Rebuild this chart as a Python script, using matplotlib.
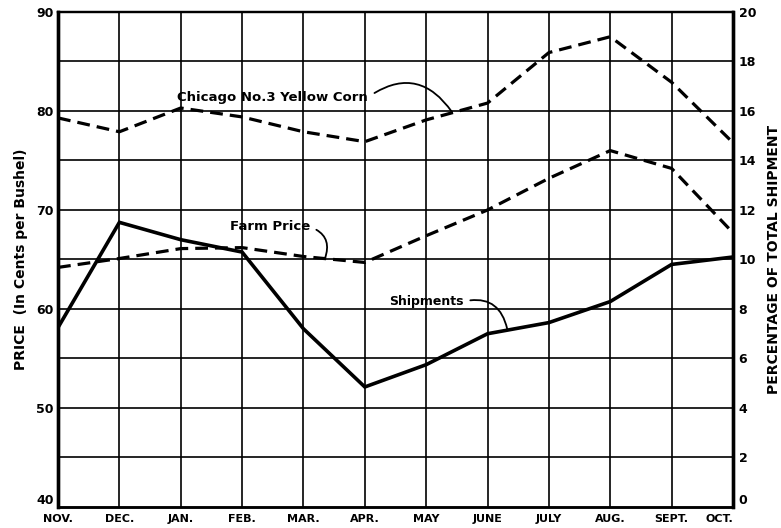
import matplotlib
matplotlib.use("Agg")
import matplotlib.pyplot as plt

# Monthly data, Nov through Oct
months = ["NOV.", "DEC.", "JAN.", "FEB.", "MAR.", "APR.",
          "MAY", "JUNE", "JULY", "AUG.", "SEPT.", "OCT."]

# Price in cents per bushel (left axis)
chicago_corn = [79.3, 77.9, 80.3, 79.4, 77.9, 76.9, 79.1, 80.8, 85.9, 87.5, 82.9, 76.8]
farm_price = [64.2, 65.1, 66.1, 66.2, 65.3, 64.7, 67.4, 70.0, 73.2, 76.0, 74.2, 67.7]

# Percentage of total shipment (right axis)
shipments = [7.25, 11.5, 10.8, 10.3, 7.2, 4.85, 5.75, 7.0, 7.45, 8.3, 9.8, 10.1]

price_ticks = [40, 50, 60, 70, 80, 90]
pct_ticks = [0, 2, 4, 6, 8, 10, 12, 14, 16, 18, 20]

plt.rcParams['font.family'] = ['DejaVu Sans']
plt.rcParams['font.weight'] = 'bold'

fig = plt.figure(figsize=(7.81, 5.28), dpi=100)
ax = fig.add_axes([0.0743, 0.0398, 0.8642, 0.9375])
x = list(range(len(months)))

ax.set_xlim(0, len(months) - 1)
ax.set_ylim(40, 90)

# Grid: every 5 cents and every month
for v in range(45, 90, 5):
    ax.axhline(v, color='black', lw=1.2, zorder=1)
for i in x[1:-1]:
    ax.axvline(i, color='black', lw=1.2, zorder=1)

ax.plot(x, chicago_corn, color='black', lw=2.3, dashes=(4, 2.2), zorder=3)
ax.plot(x, farm_price, color='black', lw=2.3, dashes=(4, 2.2), zorder=3)

ax2 = ax.twinx()
ax2.set_ylim(0, 20)
ax2.plot(x, shipments, color='black', lw=2.6, zorder=3, solid_joinstyle='miter')

# Axis ticks and labels
ax.set_xticks(x)
ax.set_xticklabels(months, fontsize=8, fontweight='bold')
ax.get_xticklabels()[-1].set_horizontalalignment('right')
ax.set_yticks(price_ticks)
ax.set_yticklabels([str(t) for t in price_ticks], fontsize=9, fontweight='bold')
ax2.set_yticks(pct_ticks)
ax2.set_yticklabels([str(t) for t in pct_ticks], fontsize=9, fontweight='bold')
ax.tick_params(axis='x', length=0, pad=5)
ax.tick_params(axis='y', length=0, pad=3)
ax2.tick_params(length=0, pad=4)
# lowest labels sit just above the bottom line
ax.get_yticklabels()[0].set_verticalalignment('bottom')
ax2.get_yticklabels()[0].set_verticalalignment('bottom')

ax.set_ylabel("PRICE  (In Cents per Bushel)", fontsize=10, fontweight='bold', labelpad=6)
ax2.set_ylabel("PERCENTAGE OF TOTAL SHIPMENT", fontsize=10, fontweight='bold', labelpad=8)

for a in (ax, ax2):
    for side in ('left', 'right'):
        a.spines[side].set_linewidth(2.4)
    a.spines['top'].set_linewidth(1.6)
    a.spines['bottom'].set_linewidth(1.8)

# Curve labels with leader lines
leader = dict(arrowstyle='-', color='black', lw=1.3,
              connectionstyle='arc3,rad=-0.5', relpos=(1, 0.5),
              shrinkA=3, shrinkB=0)
ax.annotate("Chicago No.3 Yellow Corn", xy=(6.42, 79.9), xytext=(3.5, 81.4),
            fontsize=9.5, fontweight='bold', ha='center', va='center',
            arrowprops=leader)
ax.annotate("Farm Price", xy=(4.35, 65.1), xytext=(3.45, 68.3),
            fontsize=9.5, fontweight='bold', ha='center', va='center',
            arrowprops=leader)
ax2.annotate("Shipments", xy=(7.32, 7.2), xytext=(6.0, 8.3),
             fontsize=9, fontweight='bold', ha='center', va='center',
             arrowprops=leader)

fig.savefig("out.png", dpi=100)
